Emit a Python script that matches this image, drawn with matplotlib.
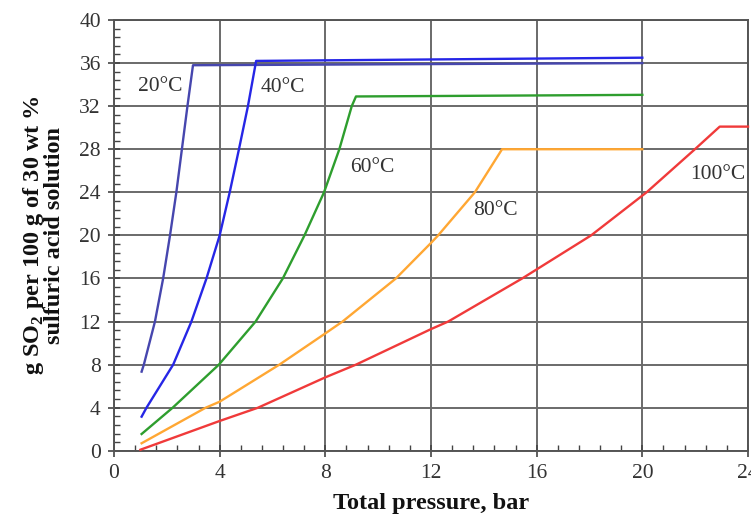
import matplotlib
matplotlib.use("Agg")
import matplotlib.pyplot as plt
from matplotlib.ticker import MultipleLocator

# Data (total pressure in bar, g SO2 per 100 g solution)
p20 = [1.045, 1.13, 1.55, 1.86, 2.12, 2.36, 2.57, 2.78, 2.99, 20.0]
s20 = [7.35, 8.0, 12.0, 16.0, 20.0, 24.0, 28.0, 32.0, 35.8, 36.0]

p40 = [1.045, 1.23, 2.24, 2.93, 3.50, 4.0, 4.38, 4.73, 5.07, 5.38, 20.0]
s40 = [3.17, 4.0, 8.0, 12.0, 16.0, 20.0, 24.0, 28.0, 32.0, 36.2, 36.5]

p60 = [1.045, 2.22, 3.97, 5.36, 6.39, 7.21, 7.95, 8.53, 9.0, 9.16, 20.0]
s60 = [1.56, 4.0, 8.0, 12.0, 16.0, 20.0, 24.0, 28.0, 32.0, 32.9, 33.05]

p80 = [1.045, 3.47, 4.0, 6.26, 8.0, 8.65, 10.67, 12.0, 12.27, 13.66, 14.69, 20.0]
s80 = [0.7, 4.0, 4.56, 8.0, 10.9, 12.0, 16.0, 19.3, 20.0, 24.0, 28.0, 28.0]

p100 = [1.0, 4.0, 5.45, 8.0, 9.16, 12.0, 12.65, 15.45, 18.06, 20.16, 21.99, 22.93, 24.0]
s100 = [0.1, 2.77, 4.0, 6.82, 8.0, 11.3, 12.0, 16.0, 20.0, 24.0, 28.0, 30.1, 30.1]

labels = ["20°C", "40°C", "60°C", "80°C", "100°C"]
label_pos = [(1.74, 33.8), (6.38, 33.7), (9.77, 26.35), (14.45, 22.3), (22.86, 25.7)]
colors = ["#4646ae", "#2626e6", "#2e9e2e", "#ffa733", "#f03a3a"]

plt.rcParams['font.family'] = ['Liberation Serif', 'DejaVu Serif']
plt.rcParams['mathtext.fontset'] = 'custom'
plt.rcParams['mathtext.rm'] = 'Liberation Serif'
plt.rcParams['mathtext.bf'] = 'Liberation Serif:bold'

fig = plt.figure(figsize=(7.51, 5.22), dpi=100)
ax = fig.add_axes([0.1518, 0.1364, 0.8442, 0.8253])

series = [(p20, s20), (p40, s40), (p60, s60), (p80, s80), (p100, s100)]
for (x, y), c in zip(series, colors):
    ax.plot(x, y, color=c, lw=1.7, solid_joinstyle='round', zorder=3, clip_on=False)

for lab, (lx, ly) in zip(labels, label_pos):
    ax.text(lx, ly, lab, fontsize=15.5, color='#333333', ha='center', va='center', zorder=4)

ax.set_xlim(0, 24)
ax.set_ylim(0, 40)
ax.xaxis.set_major_locator(MultipleLocator(4))
ax.yaxis.set_major_locator(MultipleLocator(4))
ax.xaxis.set_minor_locator(MultipleLocator(0.8))
ax.yaxis.set_minor_locator(MultipleLocator(0.8))
ax.grid(True, which='major', color='#6a6a6a', lw=1.4, zorder=1)
ax.tick_params(which='major', direction='inout', length=9, width=1.2, color='#444444',
               labelsize=15.5, labelcolor='#333333', pad=5)
ax.tick_params(which='minor', direction='in', length=4, width=1.0, color='#444444')
for s in ax.spines.values():
    s.set_color('#555555')
    s.set_linewidth(1.4)

ax.set_xlabel("Total pressure, bar", fontsize=17.5, fontweight='bold', color='#111111', labelpad=7)
ax.set_ylabel("g SO$_\\mathbf{2}$ per 100 g of 30 wt %\nsulfuric acid solution", fontsize=17.5,
              fontweight='bold', color='#111111', labelpad=10, linespacing=0.9)

fig.savefig("out.png", dpi=100)
